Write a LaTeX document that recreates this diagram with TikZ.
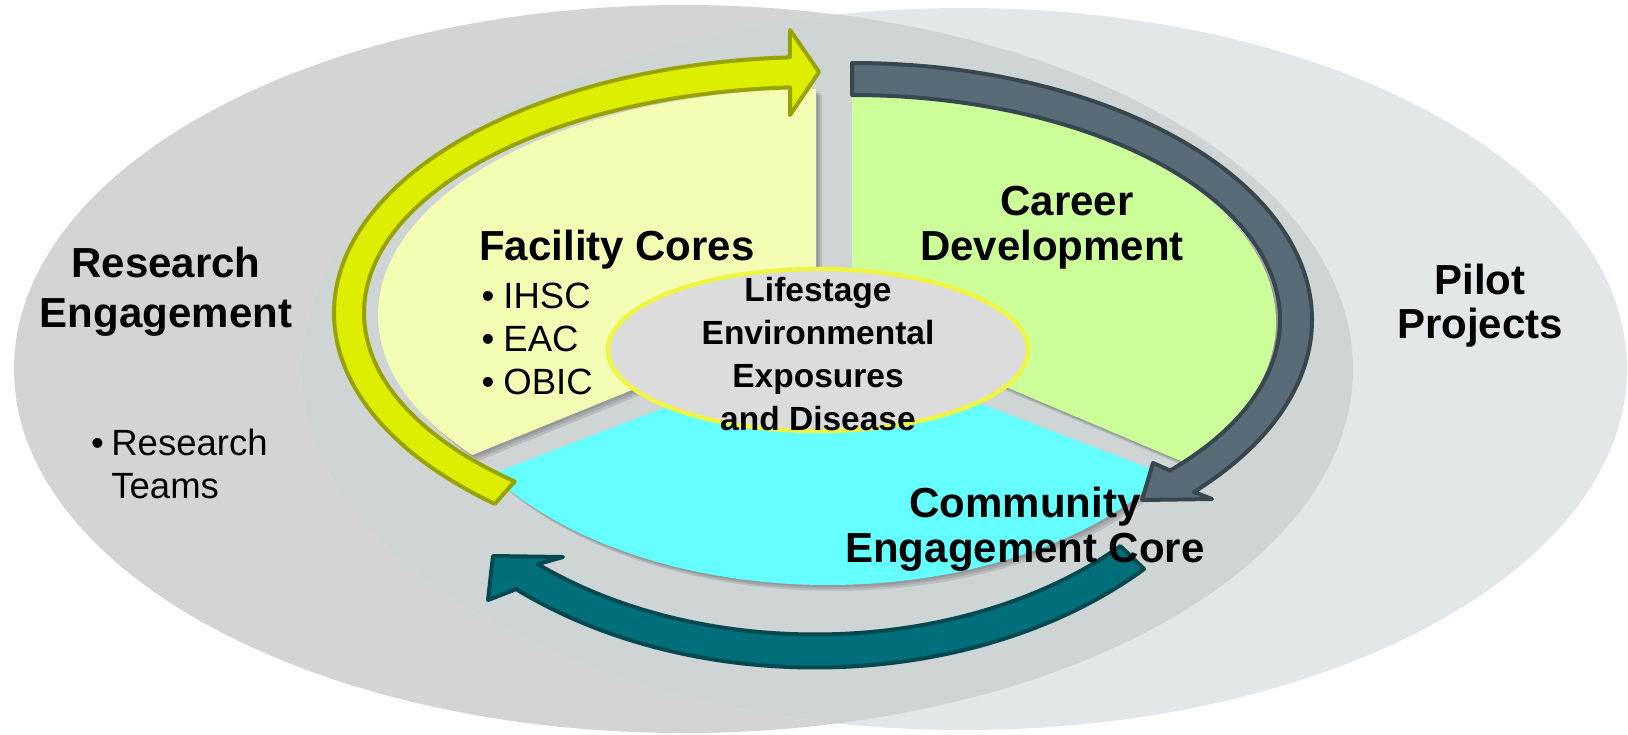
\documentclass[tikz,border=0pt]{standalone}
\usepackage{fontspec}
\setmainfont{Liberation Sans}
\usetikzlibrary{calc,shapes.geometric}
\definecolor{bgL}{HTML}{D4D4D4}
\definecolor{bgR}{HTML}{E2E7E9}
\definecolor{bgI}{HTML}{CFD4D4}
\definecolor{secY}{HTML}{F5FCB4}
\definecolor{secG}{HTML}{CCFF99}
\definecolor{secC}{HTML}{66FFFF}
\definecolor{arrY}{HTML}{DDEE00}
\definecolor{arrYd}{HTML}{99A300}
\definecolor{arrD}{HTML}{586B76}
\definecolor{arrDd}{HTML}{38474F}
\definecolor{arrT}{HTML}{006F79}
\definecolor{arrTd}{HTML}{004950}
\definecolor{hubF}{HTML}{DCDCDC}
\definecolor{hubD}{HTML}{EEF542}
\tikzset{
  secpath/.style n args={5}{insert path={(#1) -- ++(#2:#4 and #5) arc[start angle=#2, end angle=#3, x radius=#4, y radius=#5] -- cycle}},
  secshadow/.style={fill=black, opacity=0.10},
  bighead/.style={font=\fontsize{21pt}{25pt}\selectfont\bfseries, align=center, inner sep=0pt},
  bulletlist/.style={font=\fontsize{18.25pt}{21.5pt}\selectfont, align=left, inner sep=0pt},
  hubtext/.style={font=\fontsize{16.75pt}{21.5pt}\selectfont\bfseries, align=center, inner sep=0pt},
  arrowshape/.style={line width=2pt, line join=round},
}
\begin{document}
\begin{tikzpicture}[x=0.5pt, y=0.5pt, yscale=-1]
\useasboundingbox (0,0) rectangle (1628,734);
% big ellipses
\fill[bgL] (683.5,369) ellipse[x radius=669.5, y radius=364];
\fill[bgR] (964,369) ellipse[x radius=663, y radius=361];
\begin{scope}
  \clip (683.5,369) ellipse[x radius=669.5, y radius=364];
  \fill[bgI] (964,369) ellipse[x radius=663, y radius=361];
\end{scope}
% sector shadows
\foreach \d in {2,4,6} {
  \fill[secshadow, secpath={816+\d,315+\d}{141.7}{270}{438}{226}];
  \fill[secshadow, secpath={852+\d,322+\d}{-90}{38.3}{424}{227}];
  \fill[secshadow, secpath={828+\d,345+\d}{32.6}{147.4}{400}{240}];
}
% sectors
\fill[secY, secpath={816,315}{141.7}{270}{438}{226}];
\fill[secG, secpath={852,322}{-90}{38.3}{424}{227}];
\fill[secC, secpath={828,345}{32.6}{147.4}{400}{240}];
% arrows
\coordinate (yac) at (816,313);
\coordinate (dac) at (852,320);
\coordinate (tac) at (815,345);
\filldraw[fill=arrT, draw=arrTd, arrowshape]
  ($(tac)+(44:457.5 and 322.5)$) arc[start angle=44, end angle=130.8, x radius=457.5, y radius=322.5]
  -- (488,600) -- (493,556) -- (563,557)
  -- ($(tac)+(130.8:424.5 and 289.5)$) arc[start angle=130.8, end angle=44, x radius=424.5, y radius=289.5] -- cycle;
\filldraw[fill=arrY, draw=arrYd, arrowshape]
  ($(yac)+(131.8:482 and 256)$) arc[start angle=131.8, end angle=266.9, x radius=482, y radius=256]
  -- (790,30) -- (819,72) -- (790,115)
  -- ($(yac)+(266.7:452 and 226)$) arc[start angle=266.7, end angle=131.8, x radius=452, y radius=226] -- cycle;
\filldraw[fill=arrD, draw=arrDd, arrowshape]
  ($(dac)+(-90:460 and 257)$) arc[start angle=-90, end angle=42, x radius=460, y radius=257]
  -- (1212,499) -- (1142,500) -- (1153,463)
  -- ($(dac)+(42:428 and 225)$) arc[start angle=42, end angle=-90, x radius=428, y radius=225] -- cycle;
% hub
\node[ellipse, draw=hubD, fill=hubF, line width=2.2pt, minimum width=210pt, minimum height=81pt, inner sep=0pt] (hub) at (818,350) {};
% texts (anchor=base is the baseline of the last line)
\node[bighead, anchor=base] (research) at (166,327) {Research\\Engagement};
\node[bulletlist, anchor=base west] (teams) at (90.6,498) {\makebox[10.2pt][l]{•}Research\\\hspace*{10.2pt}Teams};
\node[bighead, anchor=base] (pilot) at (1480,338) {Pilot\\[-3pt]Projects};
\node[bighead, anchor=base] (facility) at (617,260) {Facility Cores};
\node[bulletlist, anchor=base west] (cores) at (481.1,394) {\makebox[11pt][l]{•}IHSC\\\makebox[11pt][l]{•}EAC\\\makebox[11pt][l]{•}OBIC};
\node[bighead, anchor=base] (career) at (1052,260) {\hspace*{15pt}Career\\[-2.5pt]Development};
\node[hubtext, anchor=base] (hubtxt) at (818,430) {Lifestage\\Environmental\\Exposures\\and Disease};
\node[bighead, anchor=base] (community) at (1025,562) {Community\\[-2.5pt]Engagement Core};
\end{tikzpicture}
\end{document}
